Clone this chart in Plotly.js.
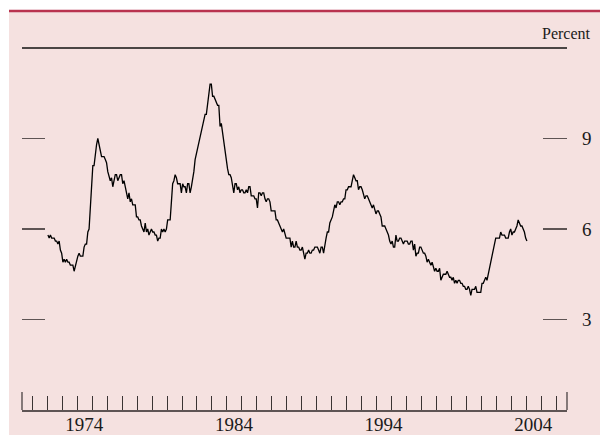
<!DOCTYPE html>
<html>
<head>
<meta charset="utf-8">
<script src="https://cdn.plot.ly/plotly-3.0.1.min.js"></script>
<style>
  html, body { margin: 0; padding: 0; background: #ffffff; }
  #chart { width: 600px; height: 435px; }
</style>
</head>
<body>
<div id="chart"></div>
<script>
// Monthly civilian unemployment rate, percent, starting January 1972
const startYear = 1972;
const rate1970s = [
  5.8,5.7,5.8,5.7,5.7,5.7,5.6,5.6,5.5,5.6,5.3,5.2,
  4.9,5.0,4.9,5.0,4.9,4.9,4.8,4.8,4.8,4.6,4.8,4.9,
  5.1,5.2,5.1,5.1,5.1,5.4,5.5,5.5,5.9,6.0,6.6,7.2,
  8.1,8.1,8.6,8.8,9.0,8.8,8.6,8.4,8.4,8.4,8.3,8.2,
  7.9,7.7,7.6,7.7,7.4,7.6,7.8,7.8,7.6,7.7,7.8,7.8,
  7.5,7.6,7.4,7.2,7.0,7.2,6.9,7.0,6.8,6.8,6.8,6.4,
  6.4,6.3,6.3,6.1,6.0,5.9,6.2,5.9,6.0,5.8,5.9,6.0,
  5.9,5.9,5.8,5.8,5.6,5.7,5.7,6.0,5.9,6.0,5.9,6.0
];
const rate1980s = [
  6.3,6.3,6.3,6.9,7.5,7.6,7.8,7.7,7.5,7.5,7.5,7.2,
  7.5,7.4,7.4,7.2,7.5,7.5,7.2,7.4,7.6,7.9,8.3,8.5,
  8.6,8.9,9.0,9.3,9.4,9.6,9.8,9.8,10.1,10.4,10.8,10.8,
  10.4,10.4,10.3,10.2,10.1,10.1,9.4,9.5,9.2,8.8,8.5,8.3,
  8.0,7.8,7.8,7.7,7.4,7.2,7.5,7.5,7.3,7.4,7.2,7.3,
  7.3,7.2,7.2,7.3,7.2,7.4,7.4,7.1,7.1,7.1,7.0,7.0,
  6.7,7.2,7.2,7.1,7.2,7.2,7.0,6.9,7.0,7.0,6.9,6.6,
  6.6,6.6,6.6,6.3,6.3,6.2,6.1,6.0,5.9,6.0,5.8,5.7,
  5.7,5.7,5.7,5.4,5.6,5.4,5.4,5.6,5.4,5.4,5.3,5.3,
  5.4,5.2,5.0,5.2,5.2,5.3,5.2,5.2,5.3,5.3,5.4,5.4
];
const rate1990s = [
  5.4,5.3,5.2,5.4,5.4,5.2,5.5,5.7,5.9,5.9,6.2,6.3,
  6.4,6.6,6.8,6.7,6.9,6.9,6.8,6.9,6.9,7.0,7.0,7.3,
  7.3,7.4,7.4,7.4,7.6,7.8,7.7,7.6,7.6,7.3,7.4,7.4,
  7.3,7.1,7.0,7.1,7.1,7.0,6.9,6.8,6.7,6.8,6.6,6.5,
  6.6,6.6,6.5,6.4,6.1,6.1,6.1,6.0,5.9,5.8,5.6,5.5,
  5.6,5.4,5.4,5.8,5.6,5.6,5.7,5.7,5.6,5.5,5.6,5.6,
  5.6,5.5,5.5,5.6,5.6,5.3,5.5,5.1,5.2,5.2,5.4,5.4,
  5.3,5.2,5.2,5.1,4.9,5.0,4.9,4.8,4.9,4.7,4.6,4.7,
  4.6,4.6,4.7,4.3,4.4,4.5,4.5,4.5,4.6,4.5,4.4,4.4,
  4.3,4.4,4.2,4.3,4.2,4.3,4.3,4.2,4.2,4.1,4.1,4.0
];
const rate2000s = [
  4.0,4.1,4.0,3.8,4.0,4.0,4.0,4.1,3.9,3.9,3.9,3.9,
  4.2,4.2,4.3,4.4,4.3,4.5,4.6,4.9,5.0,5.3,5.5,5.7,
  5.7,5.7,5.7,5.9,5.8,5.8,5.8,5.7,5.7,5.7,5.9,6.0,
  5.8,5.9,5.9,6.0,6.1,6.3,6.2,6.1,6.1,6.0,5.9,5.7,
  5.6
];

const labelYears = [1974, 1984, 1994, 2004];
const firstTickYear = 1971;
const lastTickYear = 2006;
const percentTicks = [3, 6, 9];
const percentLabels = ['3', '6', '9'];

const rates = rate1970s.concat(rate1980s, rate1990s, rate2000s);
const dates = rates.map((_, i) => startYear + (i + 0.5) / 12);

const tickYears = [];
for (let y = firstTickYear; y <= lastTickYear; y++) tickYears.push(y);
const tickText = tickYears.map(y => labelYears.includes(y) ? String(y) : '');

const serif = 'Liberation Serif, Times New Roman, serif';
const axisGray = '#5e5454';

const trace = {
  x: dates, y: rates, type: 'scatter', mode: 'lines',
  line: { color: '#000000', width: 1.3 },
  hoverinfo: 'skip', showlegend: false
};
const ghost = { x: [], y: [], yaxis: 'y2', type: 'scatter', mode: 'lines', showlegend: false, hoverinfo: 'skip' };

const layout = {
  width: 600, height: 435,
  margin: { l: 22, r: 33, t: 48, b: 25, pad: 0 },
  paper_bgcolor: '#ffffff',
  plot_bgcolor: 'rgba(0,0,0,0)',
  showlegend: false,
  font: { family: serif, size: 18, color: '#1a1a1a' },
  xaxis: {
    range: [1970.31, 2006.72],
    showgrid: false, zeroline: false,
    showline: true, linecolor: axisGray, linewidth: 2,
    ticks: 'inside', ticklen: 14, tickwidth: 1, tickcolor: '#3a3333',
    tickmode: 'array', tickvals: tickYears, ticktext: tickText,
    ticklabelshift: 7, ticklabelstandoff: -4,
    tickfont: { family: serif, size: 19, color: '#1a1a1a' },
    fixedrange: true
  },
  yaxis: {
    range: [0, 12],
    showgrid: false, zeroline: false, showline: false,
    ticks: 'inside', ticklen: 23, tickwidth: 1.5, tickcolor: axisGray,
    tickmode: 'array', tickvals: percentTicks,
    showticklabels: false, fixedrange: true
  },
  yaxis2: {
    range: [0, 12], overlaying: 'y', side: 'right', anchor: 'x',
    showgrid: false, zeroline: false, showline: false,
    ticks: 'inside', ticklen: 24, tickwidth: 1.5, tickcolor: axisGray,
    tickmode: 'array', tickvals: percentTicks, ticktext: percentLabels,
    ticklabelstandoff: 14,
    tickfont: { family: serif, size: 19, color: '#1a1a1a' },
    fixedrange: true
  },
  shapes: [
    { type: 'rect', xref: 'paper', yref: 'paper', x0: -0.02385, x1: 1.1, y0: -0.2, y1: 1.105,
      fillcolor: '#f5e1e0', line: { width: 0 }, layer: 'below' },
    { type: 'line', xref: 'paper', yref: 'paper', x0: -0.02385, x1: 1.1, y0: 1.1019, y1: 1.1019,
      line: { color: '#b9334f', width: 2.5 } },
    { type: 'line', xref: 'paper', yref: 'paper', x0: 0, x1: 1, y0: 1, y1: 1,
      line: { color: '#111111', width: 1.6 } },
    { type: 'line', xref: 'paper', yref: 'paper', x0: 0, x1: 0, y0: 0, y1: 0.05,
      line: { color: '#3a3333', width: 1.2 } },
    { type: 'line', xref: 'paper', yref: 'paper', x0: 1, x1: 1, y0: 0, y1: 0.05,
      line: { color: '#3a3333', width: 1.2 } }
  ],
  annotations: [
    { text: 'Percent', xref: 'paper', yref: 'paper', x: 1.0477, y: 1.041,
      xanchor: 'right', yanchor: 'middle', showarrow: false,
      font: { family: serif, size: 16, color: '#1a1a1a' } }
  ]
};

Plotly.newPlot('chart', [trace, ghost], layout, { displayModeBar: false, staticPlot: true });
</script>
</body>
</html>
